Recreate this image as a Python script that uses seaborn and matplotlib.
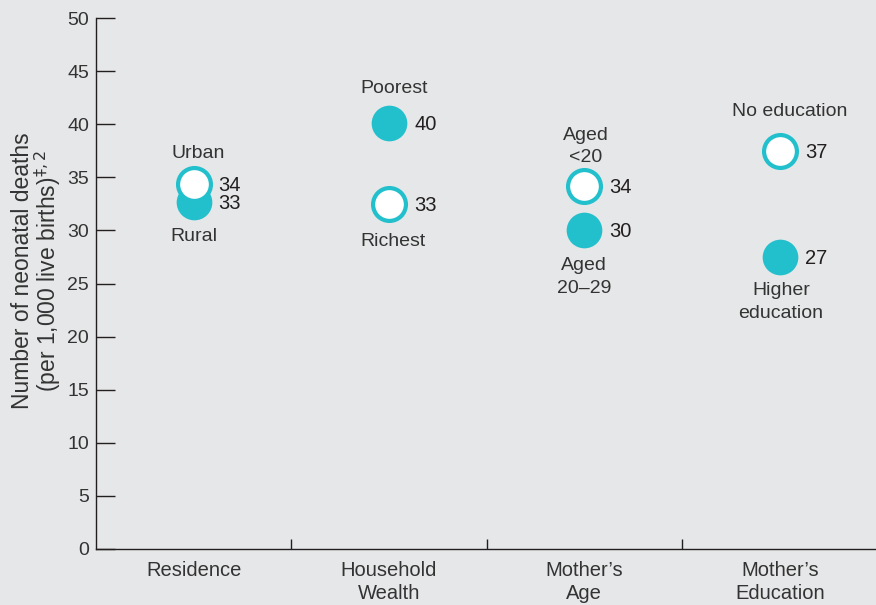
import matplotlib
matplotlib.use("Agg")
import matplotlib.pyplot as plt
import numpy as np
import pandas as pd
import seaborn as sns

# Data
groups = ["Residence", "Household\nWealth", "Mother\u2019s\nAge", "Mother\u2019s\nEducation"]
point_group = [0, 0, 1, 1, 2, 2, 3, 3]
point_label = ["Urban", "Rural", "Poorest", "Richest", "Aged\n<20", "Aged\n20\u201329",
               "No education", "Higher\neducation"]
point_value = [34.4, 32.7, 40.1, 32.5, 34.2, 30.0, 37.5, 27.5]
point_text = ["34", "33", "40", "33", "34", "30", "37", "27"]
point_filled = [False, True, True, False, False, True, False, True]

# label placement (points offset from marker centre), kept apart from the data
label_offset = [(3, 16), (0, -19), (4, 19), (3, -21), (1, 14), (0, -19), (7, 22), (1, -18)]

BG = "#E6E7E8"
TEAL = "#22BFCC"
TXT = "#333333"

df = pd.DataFrame({
    "x": point_group,
    "value": point_value,
    "label": point_label,
    "text": point_text,
    "filled": point_filled,
})

sns.set_theme(style="white")
plt.rcParams["font.family"] = ["Liberation Sans", "DejaVu Sans"]

fig = plt.figure(figsize=(8.76, 6.05), dpi=100, facecolor=BG)
ax = fig.add_axes([0.1096, 0.0926, 0.892, 0.8774], facecolor=BG)

filled = df[df["filled"]]
hollow = df[~df["filled"]]
sns.scatterplot(data=filled, x="x", y="value", ax=ax, s=660, color=TEAL,
                edgecolor=TEAL, linewidth=0, zorder=3, legend=False)
sns.scatterplot(data=hollow, x="x", y="value", ax=ax, s=560, color="white",
                edgecolor=TEAL, linewidth=3, zorder=4, legend=False)

for i, row in df.iterrows():
    dx, dy = label_offset[i]
    ax.annotate(row["label"], (row["x"], row["value"]), xytext=(dx, dy),
                textcoords="offset points", ha="center",
                va="bottom" if dy > 0 else "top", fontsize=14, color=TXT,
                linespacing=1.45)
    ax.annotate(row["text"], (row["x"], row["value"]), xytext=(18, -1),
                textcoords="offset points", ha="left", va="center",
                fontsize=14.5, color="#231F20")

ax.set_xlim(-0.5, 3.5)
ax.set_ylim(0, 50)
ax.set_yticks(np.arange(0, 51, 5))
ax.tick_params(axis="y", direction="in", length=14, width=1, color="#231F20",
               labelsize=14, labelcolor=TXT, pad=5)
ax.tick_params(axis="y", which="both", left=True, labelleft=True)

# group separators as x ticks, group names as minor labels
ax.set_xticks([0.5, 1.5, 2.5])
ax.set_xticklabels([])
ax.tick_params(axis="x", which="major", direction="in", length=7, width=1,
               color="#231F20", bottom=True)
ax.set_xticks(range(len(groups)), minor=True)
ax.set_xticklabels(groups, minor=True)
ax.tick_params(axis="x", which="minor", length=0, labelsize=14.5,
               labelcolor=TXT, pad=9)
for lbl in ax.get_xticklabels(minor=True):
    lbl.set_linespacing(1.22)

for side in ["top", "right"]:
    ax.spines[side].set_visible(False)
for side in ["left", "bottom"]:
    ax.spines[side].set_color("#231F20")
    ax.spines[side].set_linewidth(1)

ax.set_xlabel("")
ax.set_ylabel("Number of neonatal deaths\n(per 1,000 live births)$^{\u2021,2}$",
              fontsize=16.5, color=TXT, linespacing=0.95, va="center")
ax.yaxis.set_label_coords(-0.075, 0.524)

fig.savefig("out.png", dpi=100, facecolor=BG)
